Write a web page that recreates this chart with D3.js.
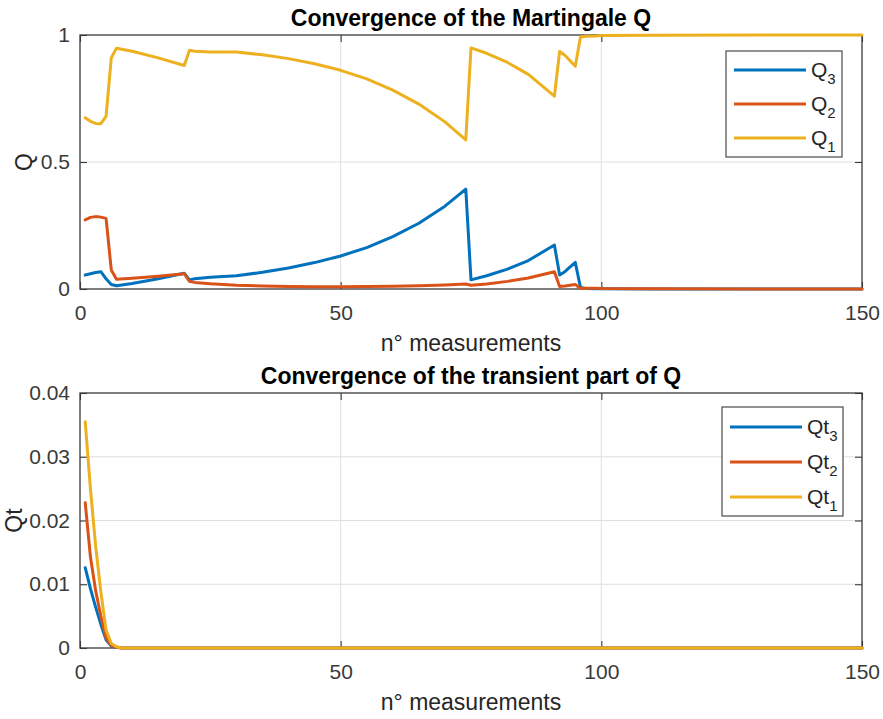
<!DOCTYPE html>
<html>
<head>
<meta charset="utf-8">
<script src="https://cdn.jsdelivr.net/npm/d3@7"></script>
<style>
  html, body { margin: 0; padding: 0; background: #fff; }
  svg { display: block; font-family: "Liberation Sans", Arial, Helvetica, sans-serif; }
</style>
</head>
<body>
<svg id="fig" width="883" height="719"></svg>
<script>
// ---- Martingale Q (measurement index and the three components) ----
const qSteps = [1, 2, 3, 4, 5, 6, 7, 10, 15, 20, 21, 22, 25, 30, 35, 40, 45, 50, 55, 60,
                65, 70, 74, 75, 78, 82, 86, 91, 92, 93, 95, 96, 97, 99, 100, 110, 150];
const q3 = [0.055, 0.060, 0.065, 0.068, 0.040, 0.018, 0.013, 0.022, 0.040, 0.062, 0.036, 0.040,
            0.046, 0.052, 0.066, 0.083, 0.104, 0.130, 0.163, 0.206, 0.259, 0.326, 0.393, 0.036,
            0.052, 0.078, 0.112, 0.173, 0.055, 0.068, 0.105, 0.006, 0.002, 0.001, 0.001, 0.000, 0.000];
const q2 = [0.272, 0.282, 0.285, 0.283, 0.278, 0.075, 0.038, 0.042, 0.050, 0.060, 0.030, 0.026,
            0.021, 0.015, 0.012, 0.010, 0.009, 0.009, 0.010, 0.011, 0.013, 0.016, 0.020, 0.015,
            0.020, 0.030, 0.043, 0.068, 0.010, 0.012, 0.018, 0.002, 0.003, 0.003, 0.002, 0.001, 0.000];
const q1 = [0.674, 0.660, 0.652, 0.651, 0.680, 0.910, 0.948, 0.936, 0.910, 0.880, 0.940, 0.936,
            0.933, 0.933, 0.922, 0.907, 0.887, 0.861, 0.827, 0.783, 0.728, 0.658, 0.587, 0.949,
            0.928, 0.892, 0.845, 0.759, 0.935, 0.920, 0.877, 0.992, 0.995, 0.996, 0.998, 0.999, 1.000];

// ---- transient part Qt ----
const qtSteps = [1, 2, 3, 4, 5, 6, 7, 8, 150];
const qt3 = [0.0126, 0.0093, 0.0064, 0.0037, 0.0013, 0.0003, 0.0001, 0, 0];
const qt2 = [0.0228, 0.0143, 0.0090, 0.0050, 0.0016, 0.0004, 0.0001, 0, 0];
const qt1 = [0.0355, 0.0250, 0.0160, 0.0088, 0.0028, 0.0007, 0.0002, 0, 0];

// ---- ticks ----
const xTicks = [0, 50, 100, 150];
const qTicks = [0, 0.5, 1];
const qtTicks = [0, 0.01, 0.02, 0.03, 0.04];

const colors = { c3: "#0072BD", c2: "#D95319", c1: "#EDB120" };

const svg = d3.select("#fig");

function panel(cfg) {
  const { left, right, top, bottom } = cfg.box;
  const x = d3.scaleLinear().domain([0, 150]).range([left, right]);
  const y = d3.scaleLinear().domain(cfg.yDomain).range([bottom, top]);
  const g = svg.append("g");

  // grid
  g.append("g").selectAll("line").data(xTicks.slice(1, -1)).join("line")
    .attr("x1", d => x(d)).attr("x2", d => x(d)).attr("y1", top).attr("y2", bottom)
    .attr("stroke", "#dfdfdf").attr("stroke-width", 1);
  g.append("g").selectAll("line").data(cfg.yTicks.slice(1, -1)).join("line")
    .attr("y1", d => y(d)).attr("y2", d => y(d)).attr("x1", left).attr("x2", right)
    .attr("stroke", "#dfdfdf").attr("stroke-width", 1);

  // axes (ticks pointing inward, mirrored on top/right)
  const tickLen = 7;
  const axisColor = "#3a3a3a";
  const styleAxis = sel => {
    sel.select(".domain").remove();
    sel.selectAll(".tick line").attr("stroke", axisColor).attr("stroke-width", 1.1);
    sel.selectAll(".tick text").attr("fill", "#3a3a3a").attr("font-size", 21)
      .attr("font-family", "Liberation Sans, Arial, sans-serif");
  };
  g.append("g").attr("transform", `translate(0,${bottom})`)
    .call(d3.axisBottom(x).tickValues(xTicks).tickFormat(d3.format("d")).tickSizeInner(-tickLen).tickSizeOuter(0).tickPadding(16))
    .call(styleAxis);
  g.append("g").attr("transform", `translate(0,${top})`)
    .call(d3.axisTop(x).tickValues(xTicks).tickFormat("").tickSizeInner(-tickLen).tickSizeOuter(0))
    .call(styleAxis);
  g.append("g").attr("transform", `translate(${left},0)`)
    .call(d3.axisLeft(y).tickValues(cfg.yTicks).tickFormat(cfg.yFormat).tickSizeInner(-tickLen).tickSizeOuter(0).tickPadding(10))
    .call(styleAxis);
  g.append("g").attr("transform", `translate(${right},0)`)
    .call(d3.axisRight(y).tickValues(cfg.yTicks).tickFormat("").tickSizeInner(-tickLen).tickSizeOuter(0))
    .call(styleAxis);

  // frame
  g.append("rect").attr("x", left).attr("y", top).attr("width", right - left).attr("height", bottom - top)
    .attr("fill", "none").attr("stroke", axisColor).attr("stroke-width", 1.3);

  // series
  const line = d3.line().x(d => x(d[0])).y(d => y(d[1]));
  cfg.series.forEach(s => {
    g.append("path").datum(cfg.steps.map((t, i) => [t, s.values[i]]))
      .attr("d", line).attr("fill", "none").attr("stroke", s.color)
      .attr("stroke-width", 3).attr("stroke-linejoin", "round").attr("stroke-linecap", "round");
  });

  // title and labels
  g.append("text").attr("x", (left + right) / 2).attr("y", top - 9)
    .attr("text-anchor", "middle").attr("font-size", 23).attr("font-weight", "bold").attr("fill", "#000")
    .text(cfg.title);
  g.append("text").attr("x", (left + right) / 2).attr("y", bottom + 62)
    .attr("text-anchor", "middle").attr("font-size", 23).attr("fill", "#262626")
    .text("n° measurements");
  g.append("text").attr("transform", `translate(${cfg.yLabelX},${(top + bottom) / 2}) rotate(-90)`)
    .attr("text-anchor", "middle").attr("font-size", 23).attr("fill", "#262626")
    .text(cfg.yLabel);

  // legend
  const L = cfg.legend;
  const lg = g.append("g");
  lg.append("rect").attr("x", L.x).attr("y", L.y).attr("width", L.w).attr("height", L.h)
    .attr("fill", "#fff").attr("stroke", axisColor).attr("stroke-width", 1.1);
  cfg.series.forEach((s, i) => {
    const yy = L.y + L.first + i * L.gap;
    lg.append("line").attr("x1", L.x + 8).attr("x2", L.x + 8 + 72).attr("y1", yy).attr("y2", yy)
      .attr("stroke", s.color).attr("stroke-width", 3);
    const t = lg.append("text").attr("x", L.x + 85).attr("y", yy + 7)
      .attr("font-size", 21).attr("fill", "#262626");
    t.append("tspan").text(s.base);
    t.append("tspan").attr("font-size", 15).attr("dy", 7).text(s.sub);
  });
}

panel({
  box: { left: 80, right: 862, top: 35, bottom: 289 },
  yDomain: [0, 1], yTicks: qTicks, yFormat: d3.format("~g"),
  steps: qSteps,
  series: [
    { values: q3, color: colors.c3, base: "Q", sub: "3" },
    { values: q2, color: colors.c2, base: "Q", sub: "2" },
    { values: q1, color: colors.c1, base: "Q", sub: "1" }
  ],
  title: "Convergence of the Martingale Q", yLabel: "Q", yLabelX: 32,
  legend: { x: 726, y: 51, w: 116, h: 106, first: 19, gap: 34 }
});

panel({
  box: { left: 80, right: 862, top: 393, bottom: 648 },
  yDomain: [0, 0.04], yTicks: qtTicks, yFormat: d3.format("~g"),
  steps: qtSteps,
  series: [
    { values: qt3, color: colors.c3, base: "Qt", sub: "3" },
    { values: qt2, color: colors.c2, base: "Qt", sub: "2" },
    { values: qt1, color: colors.c1, base: "Qt", sub: "1" }
  ],
  title: "Convergence of the transient part of Q", yLabel: "Qt", yLabelX: 22,
  legend: { x: 722, y: 407, w: 121, h: 109, first: 20, gap: 35 }
});
</script>
</body>
</html>
